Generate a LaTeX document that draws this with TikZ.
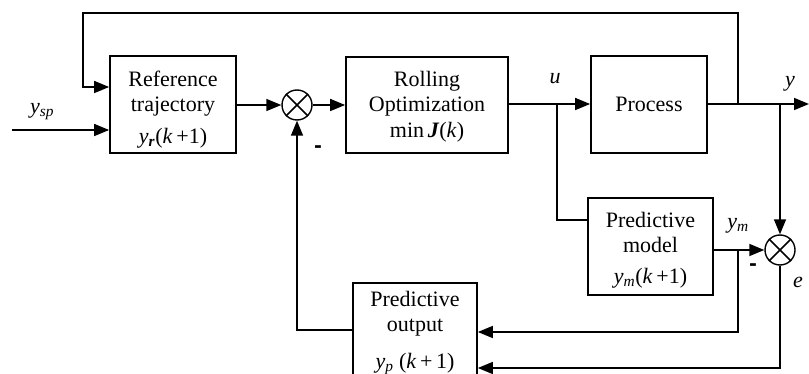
\documentclass[tikz,border=0pt]{standalone}
\usepackage{fontspec}
\setmainfont{Liberation Serif}
\newfontfamily\dvs{DejaVu Sans}
\usetikzlibrary{arrows.meta,calc}
\newcommand{\iv}[1]{\textit{#1}}
\begin{document}
\begin{tikzpicture}[x=1pt,y=-1pt,
  blk/.style={draw,line width=1.7pt,inner sep=0pt},
  txt/.style={align=center,inner sep=0pt,font=\fontsize{22}{25}\selectfont},
  sumc/.style={draw,circle,line width=1.4pt,minimum size=30pt,inner sep=0pt},
  conn/.style={line width=1.5pt},
  arr/.style={conn,-{Triangle[length=15pt,width=12pt]}},
  lbl/.style={font=\fontsize{22}{25}\selectfont,inner sep=0pt},
  minus/.style={font=\fontsize{19}{22}\dvs\bfseries,inner sep=0pt}]
\useasboundingbox (0,0) rectangle (809,374);

% blocks
\node[blk,minimum width=126pt,minimum height=97pt] (ref) at (173,104.5) {};
\node[txt] (reft) at ([yshift=-5pt]ref.center)
  {Reference\\trajectory\\[7pt]\iv{y}\textsubscript{\iv{\textbf{r}}}(\iv{k}\,+1)};
\node[blk,minimum width=162pt,minimum height=96pt] (opt) at (427,105) {};
\node[txt] (optt) at ([yshift=-2pt]opt.center)
  {Rolling\\Optimization\\[1pt]min\,\iv{\textbf{J}}(\iv{k})};
\node[blk,minimum width=116pt,minimum height=97pt] (proc) at (649,104.5) {};
\node[txt] (proct) at (proc.center) {Process};
\node[blk,minimum width=125pt,minimum height=97pt] (model) at (650.5,246.5) {};
\node[txt] (modelt) at ([yshift=-4pt]model.center)
  {Predictive\\model\\[6pt]\iv{y}\textsubscript{\iv{m}}(\iv{k}\,+1)};
\node[blk,minimum width=124pt,minimum height=96pt] (out) at (415,331) {};
\node[txt] (outt) at ([yshift=-2pt]out.center)
  {Predictive\\output\\[12pt]\iv{y}\textsubscript{\iv{p}}\ (\iv{k}\,+\,1)};

% summing junctions
\node[sumc] (s1) at (297,105) {};
\draw[conn] (s1.north east) -- (s1.south west) (s1.north west) -- (s1.south east);
\node[sumc] (s2) at (780,250) {};
\draw[conn] (s2.north east) -- (s2.south west) (s2.north west) -- (s2.south east);

% coordinates
\coordinate (ysp) at (12,130);
\coordinate (yout) at (809,104);
\coordinate (tfb) at (738,104);
\coordinate (ybr) at (780,104);
\coordinate (ubr) at (557,104);
\coordinate (ymbr) at (738,250);

% connectors
\draw[arr] (ysp) -- (ysp -| ref.west);
\draw[arr] (tfb) -- (738,13) -- (83,13) -- (83,87) -- (ref.west |- 0,87);
\draw[arr] (ref.east |- s1) -- (s1.west);
\draw[arr] (s1.east) -- (opt.west |- s1);
\draw[arr] (opt.east |- 0,104) -- (proc.west |- 0,104);
\draw[arr] (proc.east |- yout) -- (yout);
\draw[conn] (ubr) -- (557,220) -- (model.west |- 0,220);
\draw[arr] (ybr) -- (s2.north);
\draw[arr] (model.east |- s2) -- (s2.west);
\draw[arr] (ymbr) -- (738,332) -- (out.east |- 0,332);
\draw[arr] (s2.south) -- (780,368) -- (out.east |- 0,368);
\draw[arr] (out.west |- 0,330) -- (297,330) -- (s1.south);

% labels
\node[lbl] (lysp) at (42,112) {\iv{y}\textsubscript{\iv{sp}}};
\node[lbl] (lu) at (555,79) {\iv{u}};
\node[lbl] (ly) at (790,84) {\iv{y}};
\node[lbl] (lym) at (738,226) {\iv{y}\textsubscript{\iv{m}}};
\node[lbl] (le) at (798,282) {\iv{e}};
\node[minus] (m1) at (318,149) {-};
\node[minus] (m2) at (753,267) {-};
\end{tikzpicture}
\end{document}
